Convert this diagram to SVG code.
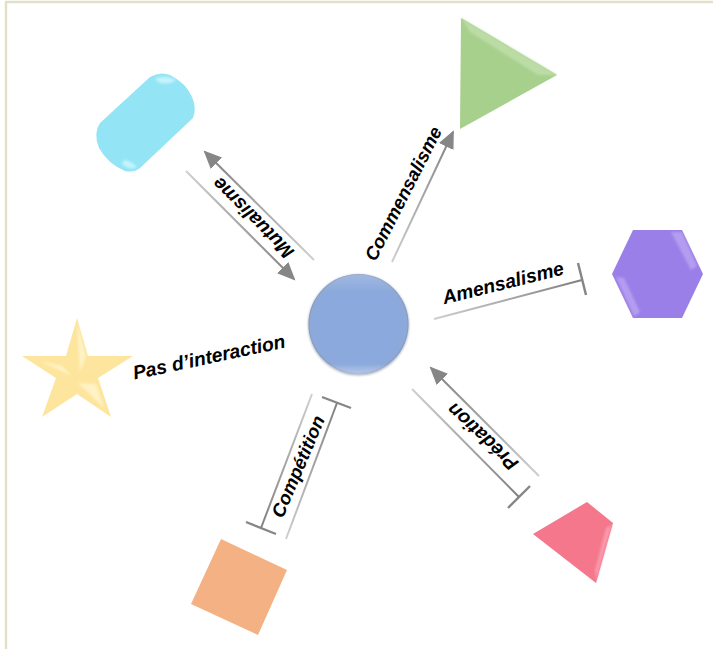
<svg xmlns="http://www.w3.org/2000/svg" width="713" height="649" viewBox="0 0 713 649">
<style>
.ln{stroke-width:2;fill:none}
.bar{stroke:#868686;stroke-width:2.4;fill:none}
.lbl{font-family:"Liberation Sans",Arial,sans-serif;font-weight:700;font-style:italic;font-size:19.3px;fill:#000;text-anchor:middle}
.d{stop-color:#808080}
.l{stop-color:#cfcfcf}
</style>
<defs>
<marker id="ah" markerUnits="userSpaceOnUse" markerWidth="22" markerHeight="20" refX="16" refY="8" orient="auto-start-reverse"><path d="M0 0L18 8L0 16Z" fill="#868686"/></marker>
<linearGradient id="g1" gradientUnits="userSpaceOnUse" x1="205" y1="152" x2="314" y2="260"><stop offset="0" class="d"/><stop offset="1" class="l"/></linearGradient>
<linearGradient id="g2" gradientUnits="userSpaceOnUse" x1="186" y1="171" x2="294" y2="279"><stop offset="0" class="l"/><stop offset="1" class="d"/></linearGradient>
<linearGradient id="g3" gradientUnits="userSpaceOnUse" x1="392" y1="262" x2="453" y2="132"><stop offset="0" class="l"/><stop offset="1" class="d"/></linearGradient>
<linearGradient id="g4" gradientUnits="userSpaceOnUse" x1="434" y1="319" x2="583" y2="280"><stop offset="0" class="l"/><stop offset="1" class="d"/></linearGradient>
<linearGradient id="g5" gradientUnits="userSpaceOnUse" x1="337" y1="405" x2="286" y2="539"><stop offset="0" class="d"/><stop offset="1" class="l"/></linearGradient>
<linearGradient id="g6" gradientUnits="userSpaceOnUse" x1="312" y1="394" x2="261" y2="528"><stop offset="0" class="l"/><stop offset="1" class="d"/></linearGradient>
<linearGradient id="g7" gradientUnits="userSpaceOnUse" x1="431" y1="368" x2="539" y2="476"><stop offset="0" class="d"/><stop offset="1" class="l"/></linearGradient>
<linearGradient id="g8" gradientUnits="userSpaceOnUse" x1="412" y1="389" x2="519" y2="496"><stop offset="0" class="l"/><stop offset="1" class="d"/></linearGradient>
<radialGradient id="ball" cx="0.5" cy="0.5" r="0.5"><stop offset="0" stop-color="#8ba9dc"/><stop offset="0.86" stop-color="#8ba9dc"/><stop offset="0.97" stop-color="#8ea9d8"/><stop offset="1" stop-color="#7f94b8"/></radialGradient>
<linearGradient id="ballTop" x1="0" y1="0" x2="0" y2="1"><stop offset="0" stop-color="#fff" stop-opacity="0.18"/><stop offset="0.18" stop-color="#fff" stop-opacity="0"/><stop offset="0.9" stop-color="#fff" stop-opacity="0"/><stop offset="1" stop-color="#dfe9fa" stop-opacity="0.45"/></linearGradient>
<filter id="soft" x="-20%" y="-20%" width="140%" height="140%"><feGaussianBlur stdDeviation="1.2"/></filter>
<filter id="shadow" x="-20%" y="-20%" width="140%" height="140%"><feGaussianBlur stdDeviation="1"/></filter>
</defs>
<rect width="713" height="649" fill="#fff"/>
<path d="M6 649V2H713" fill="none" stroke="#e4e0c8" stroke-width="2.4"/>
<g id="connectors">
<line class="ln" stroke="url(#g1)" x1="205" y1="152" x2="314" y2="260" marker-start="url(#ah)"/>
<line class="ln" stroke="url(#g2)" x1="186" y1="171" x2="294" y2="279" marker-end="url(#ah)"/>
<line class="ln" stroke="url(#g3)" x1="392" y1="262" x2="453" y2="132" marker-end="url(#ah)"/>
<line class="ln" stroke="url(#g4)" x1="434" y1="319" x2="582" y2="280"/>
<line class="bar" x1="578" y1="263" x2="586" y2="295"/>
<line class="ln" stroke="url(#g5)" x1="337" y1="403" x2="286" y2="539"/>
<line class="ln" stroke="url(#g6)" x1="312" y1="394" x2="261" y2="528"/>
<line class="bar" x1="322" y1="397" x2="351" y2="408"/>
<line class="bar" x1="246" y1="522" x2="276" y2="534"/>
<line class="ln" stroke="url(#g7)" x1="431" y1="368" x2="539" y2="476" marker-start="url(#ah)"/>
<line class="ln" stroke="url(#g8)" x1="412" y1="389" x2="519" y2="497"/>
<line class="bar" x1="530" y1="486" x2="508" y2="508"/>
</g>
<g id="node-center">
<circle cx="358.5" cy="325" r="50.5" fill="#6f7f9a" opacity="0.55" filter="url(#shadow)"/>
<circle cx="358.5" cy="324" r="50" fill="url(#ball)"/>
<circle cx="358.5" cy="324" r="50" fill="url(#ballTop)"/>
</g>
<g id="node-cylinder">
<path d="M100 123L150 77Q160 71 170 75Q186 83 192 97Q197 108 193 118L140 168Q134 173 125 171Q108 164 99 148Q93 133 100 123Z" fill="#93e5f6"/>
<path d="M155 79Q165 74 176 80Q170 85 160 83ZM122 164Q130 171 137 167Q130 160 124 160Z" fill="#c4f3fb" filter="url(#soft)"/>
</g>
<g id="node-triangle">
<path d="M461 18L557 75L460 129Z" fill="#a8d08d"/>
<path d="M461 18L557 75L538 75L470 32Z" fill="#bcdca6" filter="url(#soft)"/>
</g>
<g id="node-hexagon">
<path d="M612 274L633 230H682L703 274L682 318H633Z" fill="#9b7fe8"/>
<path d="M671 232L682 232L697 266L691 270Z" fill="#b49df0" filter="url(#soft)"/>
<path d="M616 277L624 278L640 312L634 316Z" fill="#b49df0" filter="url(#soft)"/>
</g>
<g id="node-star">
<path d="M77 318L88 356H133L98 378L111 417L77 394L42 417L56 378L22 356H66Z" fill="#fde59d"/>
<path d="M77 322L86 356L80 372ZM40 361L62 366L72 376ZM78 383L104 408L96 384Z" fill="#fff2c4" filter="url(#soft)"/>
</g>
<g id="node-square">
<path d="M221 539L287 570L258 635L191 604Z" fill="#f4b183"/>
</g>
<g id="node-trapezoid">
<path d="M533 534L587 502L613 523L596 583Z" fill="#f4778c"/>
<path d="M612 524L596 581L595 570L606 528Z" fill="#f89aaa" filter="url(#soft)"/>
</g>
<text class="lbl" transform="translate(257.6 213.4) rotate(225)">Mutualisme</text>
<text class="lbl" style="font-size:18.6px" transform="translate(409 196.5) rotate(-63)">Commensalisme</text>
<text class="lbl" transform="translate(504.6 289.3) rotate(-14)">Amensalisme</text>
<text class="lbl" transform="translate(210.4 363.4) rotate(-12)">Pas d’interaction</text>
<text class="lbl" style="font-size:18.6px" transform="translate(304 469) rotate(-67)">Compétition</text>
<text class="lbl" transform="translate(487 432) rotate(223)">Prédation</text>
</svg>
